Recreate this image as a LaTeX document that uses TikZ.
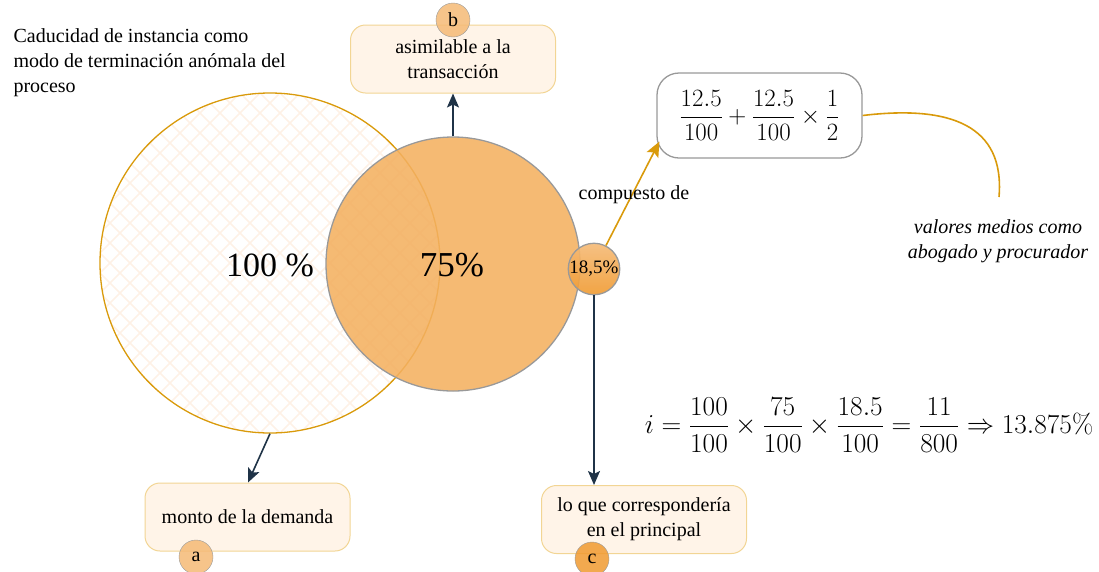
\documentclass[tikz,border=0pt]{standalone}
\usepackage{amsmath}
\usepackage[no-math]{fontspec}
\setmainfont{Liberation Serif}
\usetikzlibrary{arrows.meta,calc}
\definecolor{navy}{HTML}{1F3347}
\definecolor{gold}{HTML}{D99A0B}
\definecolor{boxfill}{HTML}{FFF4E8}
\definecolor{boxline}{HTML}{F2D594}
\definecolor{orangefill}{HTML}{F4B060}
\definecolor{badgefill}{HTML}{F5BA76}
\definecolor{badgedark}{HTML}{F09A30}
\definecolor{hatch}{HTML}{FEF1E6}
\definecolor{greyline}{HTML}{999999}
\begin{document}
\begin{tikzpicture}[x=1pt,y=-1pt,
  txt/.style={font=\fontsize{20}{25}\selectfont, align=center},
  labelbox/.style={draw=boxline, fill=boxfill, rounded corners=15pt, line width=1pt,
    minimum width=205pt, minimum height=68pt, inner sep=0pt, txt},
  badge/.style={circle, draw=greyline, fill=badgefill, fill opacity=0.85, text opacity=1,
    minimum size=34pt, inner sep=0pt, font=\fontsize{20}{20}\selectfont},
  navarrow/.style={draw=navy, line width=1.6pt, -{Stealth[length=14pt,width=12pt,inset=3pt]}},
  goldline/.style={draw=gold, line width=1.6pt}
]
\useasboundingbox (0,0) rectangle (1099,571);

% hatch inside big circle
\begin{scope}
  \clip (270,263) circle[radius=170];
  \foreach \k in {-30,...,30} {
    \draw[hatch, line width=1.5pt] (270+\k*20-200,63) -- (270+\k*20+200,463);
    \draw[hatch, line width=1.5pt] (270+\k*20+200,63) -- (270+\k*20-200,463);
  }
\end{scope}
\node[circle, draw=gold, line width=1.3pt, minimum size=340pt, inner sep=0pt] (big) at (270,263) {};

\node[circle, draw=greyline, line width=1.3pt, fill=orangefill, fill opacity=0.88, text opacity=1,
  minimum size=254pt, inner sep=0pt] (mid) at (453,264) {};

\node[font=\fontsize{34}{34}\selectfont] (t100) at (270,265) {100 \%};
\node[font=\fontsize{35}{35}\selectfont] (t75) at (452,265) {75\%};

\node[circle, draw=greyline, line width=1.3pt, top color=badgefill, bottom color=badgedark,
  fill opacity=0.9, text opacity=1, minimum size=50pt, inner sep=0pt,
  font=\fontsize{19}{19}\selectfont] (small) at (594,269) {18,5\%};

% label boxes
\node[labelbox] (boxb) at (453,59) {asimilable a la\\transacción};
\node[labelbox] (boxa) at (247.5,517) {monto de la demanda};
\node[labelbox] (boxc) at (644,519.5) {lo que correspondería\\en el principal};

\node[badge] (ba) at (196,557) {a};
\node[badge] (bb) at (453,20) {b};
\node[badge, fill=badgedark] (bc) at (592,559) {c};

% formula box
\node[draw=greyline, line width=1.3pt, fill=white, rounded corners=22pt,
  minimum width=205pt, minimum height=85pt, inner sep=0pt] (fbox) at (759.5,115.5)
  {\fontsize{23}{26}\selectfont$\dfrac{12.5}{100}+\dfrac{12.5}{100}\times\dfrac{1}{2}$};

% connectors
\draw[navarrow] (big.south) -- ($(boxa.north)+(0.5,0)$);
\draw[navarrow] (mid.north) -- (boxb.south);
\draw[navarrow] (small.south) -- (small.south |- boxc.north);
\draw[goldline, -{Stealth[length=15pt,width=13pt,inset=3pt]}] (small.63) -- ($(fbox.south west)+(3,-17)$);
\node[txt] (comp) at (634,195) {compuesto de};

\coordinate (vend) at (999,197);
\draw[goldline] (fbox.east) .. controls (950,105) and (1005,125) .. (vend);
\node[txt, font=\fontsize{20}{25}\selectfont\itshape] (val) at (998,241) {valores medios como\\abogado y procurador};

\node[txt, align=left, anchor=north west] (title) at (10,25)
  {Caducidad de instancia como\\modo de terminación anómala del\\proceso};

\node[font=\fontsize{24.88}{28}\selectfont] (eq) at (869,425)
  {\scalebox{1.1}{$i=\dfrac{100}{100}\times\dfrac{75}{100}\times\dfrac{18.5}{100}=\dfrac{11}{800}\Rightarrow 13.875\%$}};
\end{tikzpicture}
\end{document}
